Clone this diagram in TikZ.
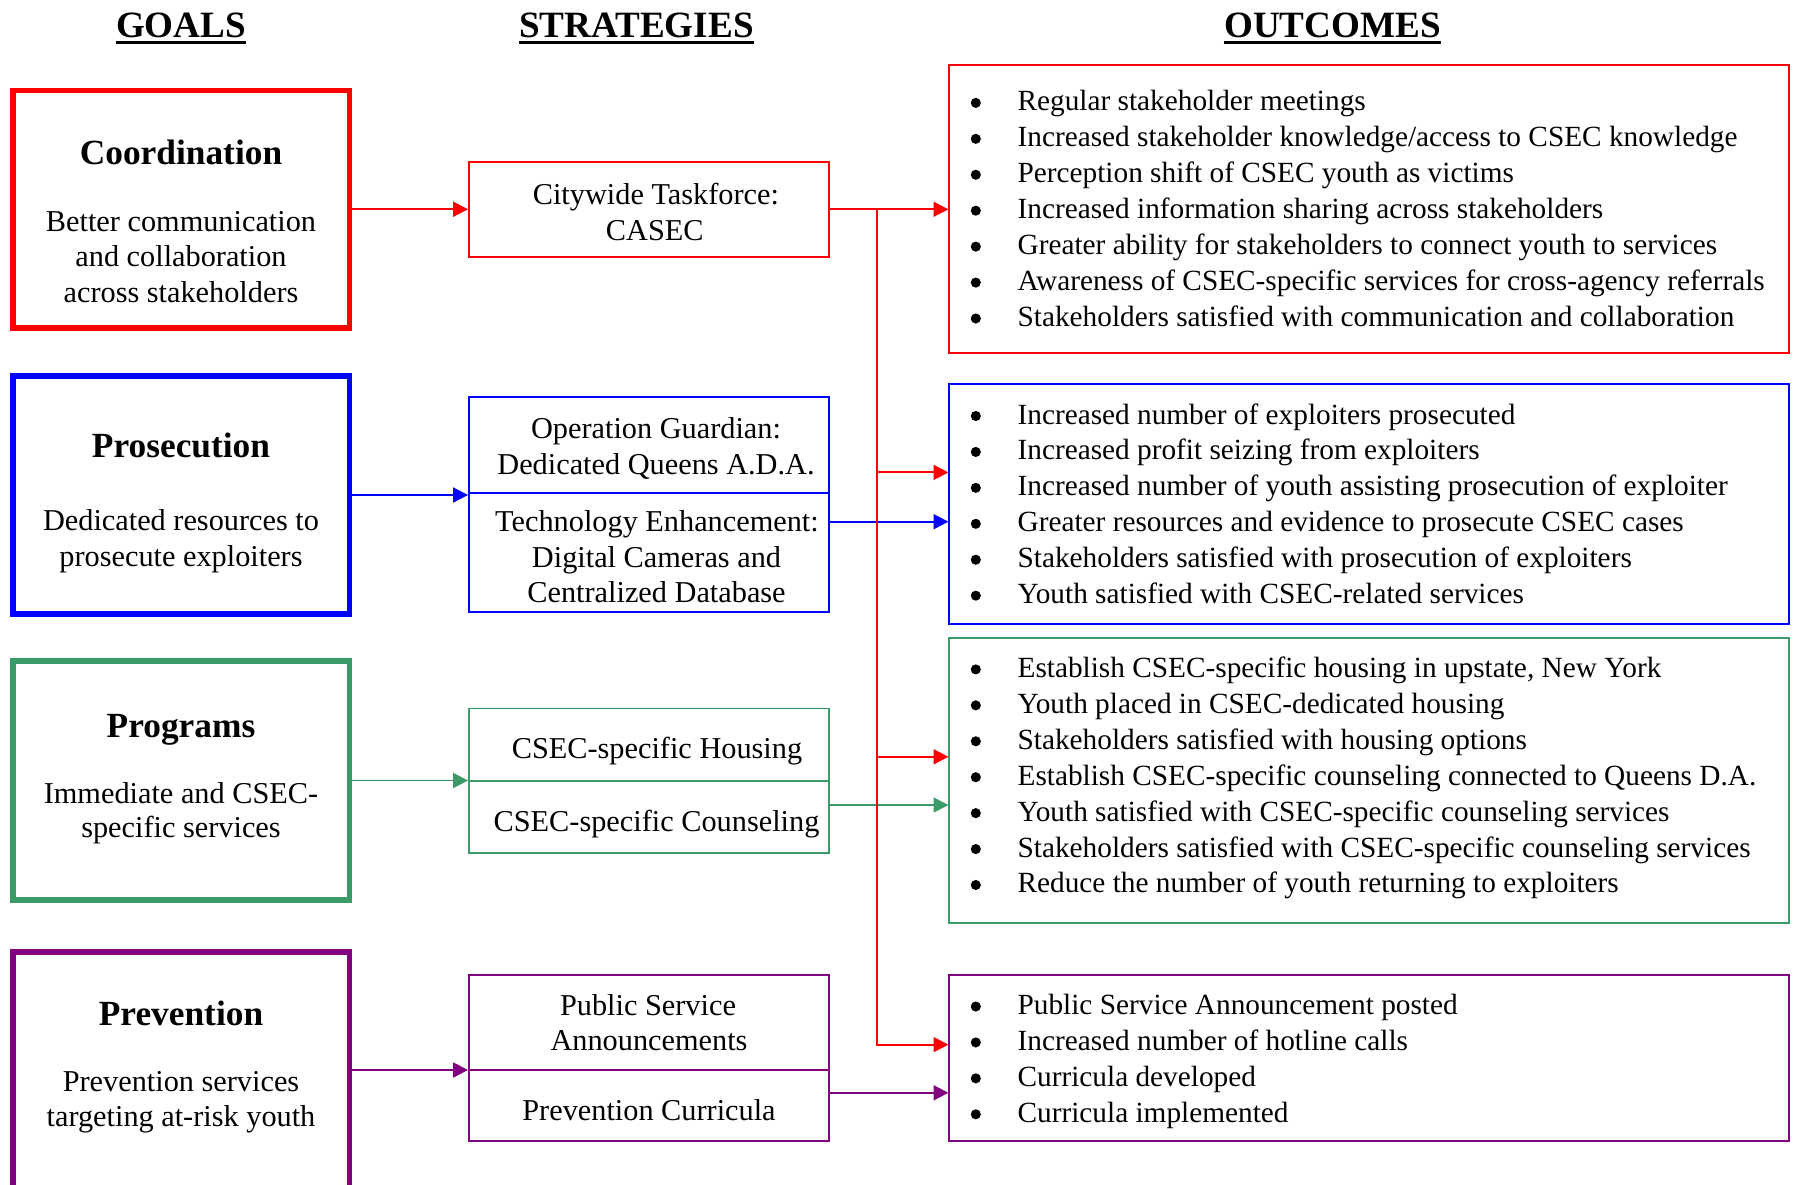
\documentclass[tikz,border=0pt]{standalone}
\usepackage{fontspec}
\setmainfont{Liberation Serif}
\usetikzlibrary{arrows.meta,fit}
\definecolor{cRed}{RGB}{255,0,0}
\definecolor{cBlue}{RGB}{0,0,255}
\definecolor{cGreen}{RGB}{58,154,104}
\definecolor{cPurple}{RGB}{128,0,128}

% one bulleted outcome list: #1 name prefix, #2 baseline of first row, #3 items
\newcommand\outlist[3]{%
  \foreach \t [count=\i] in {#3}{%
    \node[dot]  (#1d\i) at (975.8,{#2+(\i-1)*35.93-8}) {};
    \node[item] (#1t\i) at (1017.1,{#2+(\i-1)*35.93}) {\t};
  }}

\begin{document}
\begin{tikzpicture}[x=0.396pt,y=-0.396pt,
  goalbox/.style={draw=#1,line width=2.2pt,inner sep=0pt},
  stratbox/.style={draw=#1,line width=0.75pt,inner sep=0pt},
  outbox/.style={draw=#1,line width=0.75pt,inner sep=0pt},
  conn/.style={draw=#1,line width=0.75pt,-{Triangle[length=5.9pt,width=5.9pt]}},
  head/.style={font=\fontsize{14.7}{17}\selectfont\bfseries,anchor=base,inner sep=0pt},
  gtitle/.style={font=\fontsize{14}{16}\selectfont\bfseries,anchor=base,inner sep=0pt},
  body/.style={font=\fontsize{12}{13.8}\selectfont,anchor=base,inner sep=0pt},
  item/.style={font=\fontsize{11.6}{13.8}\selectfont,anchor=base west,inner sep=0pt},
  dot/.style={circle,fill=black,inner sep=0pt,minimum size=4pt},
]
\useasboundingbox (0,0) rectangle (1798,1184);
\fill[white] (0,0) rectangle (1798,1184);

% column headings
\node[head] (hGoals) at (181,37.7) {GOALS};
\node[head] (hStrat) at (636.4,37.7) {STRATEGIES};
\node[head] (hOut)   at (1332.4,37.7) {OUTCOMES};
\foreach \h in {hGoals,hStrat,hOut}
  \draw[line width=1.4pt] ([yshift=-1.9pt]\h.base west) -- ([yshift=-1.9pt]\h.base east);

% goal boxes
\node[goalbox=cRed,   fit={(13,90.5)(349.5,328)}]  (g1) {};
\node[goalbox=cBlue,  fit={(13,376)(349.5,614)}]   (g2) {};
\node[goalbox=cGreen, fit={(13,661)(349.5,900)}]   (g3) {};
\node[goalbox=cPurple,fit={(13,952)(349.5,1188)}]  (g4) {};

\node[gtitle] (g1t) at (181,164)   {Coordination};
\node[body]   (g1a) at (181,231.3) {Better communication};
\node[body]   (g1b) at (181,266.9) {and collaboration};
\node[body]   (g1c) at (181,302.4) {across stakeholders};

\node[gtitle] (g2t) at (181,457.5) {Prosecution};
\node[body]   (g2a) at (181,530.6) {Dedicated resources to};
\node[body]   (g2b) at (181,566)   {prosecute exploiters};

\node[gtitle] (g3t) at (181,737.3) {Programs};
\node[body]   (g3a) at (181,803.5) {Immediate and CSEC-};
\node[body]   (g3b) at (181,837.9) {specific services};

\node[gtitle] (g4t) at (181,1025.2) {Prevention};
\node[body]   (g4a) at (181,1091.3) {Prevention services};
\node[body]   (g4b) at (181,1126.9) {targeting at-risk youth};

% strategy boxes
\node[stratbox=cRed,   fit={(469,161.7)(829,256.9)}] (s1)  {};
\node[stratbox=cBlue,  fit={(469,397)(829,493)}]     (s2a) {};
\node[stratbox=cBlue,  fit={(469,493)(829,612)}]     (s2b) {};
\node[stratbox=cGreen, fit={(469,708.5)(829,781)}]   (s3a) {};
\node[stratbox=cGreen, fit={(469,781)(829,853)}]     (s3b) {};
\node[stratbox=cPurple,fit={(469,974.7)(829,1070)}]  (s4a) {};
\node[stratbox=cPurple,fit={(469,1070)(829,1141)}]   (s4b) {};

\node[body] (s1l1) at (655.9,204.9) {Citywide Taskforce:};
\node[body] (s1l2) at (654.8,240.5) {CASEC};
\node[body] (s2l1) at (656,438.9) {Operation Guardian:};
\node[body] (s2l2) at (656,474.4) {Dedicated Queens A.D.A.};
\node[body] (s2l3) at (657,531.7) {Technology Enhancement:};
\node[body] (s2l4) at (656.5,567.3) {Digital Cameras and};
\node[body] (s2l5) at (656.5,602.8) {Centralized Database};
\node[body] (s3l1) at (657,758.8) {CSEC-specific Housing};
\node[body] (s3l2) at (656.5,831) {CSEC-specific Counseling};
\node[body] (s4l1) at (648,1015.6) {Public Service};
\node[body] (s4l2) at (649,1050) {Announcements};
\node[body] (s4l3) at (649,1120) {Prevention Curricula};

% outcome boxes
\node[outbox=cRed,   fit={(949.4,65.4)(1788.8,353.2)}]  (o1) {};
\node[outbox=cBlue,  fit={(949.4,384.1)(1788.8,623.8)}] (o2) {};
\node[outbox=cGreen, fit={(949.4,637.6)(1788.8,923.1)}] (o3) {};
\node[outbox=cPurple,fit={(949.4,974.7)(1788.8,1141)}]  (o4) {};

\outlist{o1}{110.9}{Regular stakeholder meetings,
  Increased stakeholder knowledge/access to CSEC knowledge,
  Perception shift of CSEC youth as victims,
  Increased information sharing across stakeholders,
  Greater ability for stakeholders to connect youth to services,
  Awareness of CSEC-specific services for cross-agency referrals,
  Stakeholders satisfied with communication and collaboration}
\outlist{o2}{424}{Increased number of exploiters prosecuted,
  Increased profit seizing from exploiters,
  Increased number of youth assisting prosecution of exploiter,
  Greater resources and evidence to prosecute CSEC cases,
  Stakeholders satisfied with prosecution of exploiters,
  Youth satisfied with CSEC-related services}
\outlist{o3}{677.4}{{Establish CSEC-specific housing in upstate, New York},
  Youth placed in CSEC-dedicated housing,
  Stakeholders satisfied with housing options,
  Establish CSEC-specific counseling connected to Queens D.A.,
  Youth satisfied with CSEC-specific counseling services,
  Stakeholders satisfied with CSEC-specific counseling services,
  Reduce the number of youth returning to exploiters}
\outlist{o4}{1014.5}{Public Service Announcement posted,
  Increased number of hotline calls,
  Curricula developed,
  Curricula implemented}

% goals to strategies
\draw[conn=cRed]    (g1.east) -- (g1.east -| s1.west);
\draw[conn=cBlue]   (g2.east) -- (g2.east -| s2a.west);
\draw[conn=cGreen]  (g3.east) -- (g3.east -| s3a.west);
\draw[conn=cPurple] (g4.east) -- (g4.east -| s4a.west);

% strategies to outcomes
\coordinate (k2) at (0,521.7);
\coordinate (k3) at (0,805);
\coordinate (k4) at (0,1092.8);
\draw[conn=cBlue]   (s2b.east |- k2) -- (o2.west |- k2);
\draw[conn=cGreen]  (s3b.east |- k3) -- (o3.west |- k3);
\draw[conn=cPurple] (s4b.east |- k4) -- (o4.west |- k4);

% taskforce feeds every outcome group
\coordinate (j1) at (877.2,209.3);
\coordinate (j2) at (877.2,472.4);
\coordinate (j3) at (877.2,756.8);
\coordinate (j4) at (877.2,1044.6);
\draw[conn=cRed] (s1.east) -- (o1.west);
\draw[conn=cRed] (j1) -- (j4) -- (o4.west |- j4);
\draw[conn=cRed] (j2) -- (o2.west |- j2);
\draw[conn=cRed] (j3) -- (o3.west |- j3);
\end{tikzpicture}
\end{document}
